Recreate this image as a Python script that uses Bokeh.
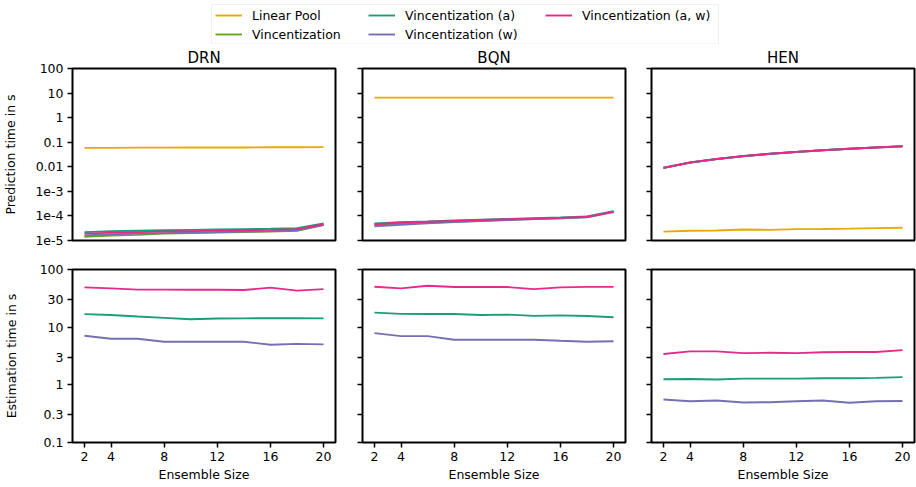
from bokeh.plotting import figure
from bokeh.models import Range1d, FixedTicker, Legend, LegendItem, BoxAnnotation
from bokeh.layouts import column, row
from bokeh.embed import file_html
from bokeh.resources import INLINE

# ---------------- data ----------------
ensemble_sizes = [2, 4, 6, 8, 10, 12, 14, 16, 18, 20]
models = ["DRN", "BQN", "HEN"]
method_names = ["Linear Pool", "Vincentization", "Vincentization (a)",
                "Vincentization (w)", "Vincentization (a, w)"]
method_colors = ["#e6ab02", "#66a61e", "#1b9e77", "#7570b3", "#e7298a"]

pred_ticks = [1e-5, 1e-4, 1e-3, 0.01, 0.1, 1, 10, 100]
pred_tick_labels = ["1e-5", "1e-4", "1e-3", "0.01", "0.1", "1", "10", "100"]
est_ticks = [0.1, 0.3, 1, 3, 10, 30, 100]
est_tick_labels = ["0.1", "0.3", "1", "3", "10", "30", "100"]
x_ticks = [2, 4, 8, 12, 16, 20]

# prediction time (s)
drn_pred_lp = [0.059, 0.059, 0.060, 0.060, 0.061, 0.061, 0.061, 0.062, 0.062, 0.063]
drn_pred_v = [1.4e-5, 1.6e-5, 1.7e-5, 1.9e-5, 2.0e-5, 2.1e-5, 2.2e-5, 2.3e-5, 2.5e-5, 4.2e-5]
drn_pred_va = [2.2e-5, 2.4e-5, 2.5e-5, 2.6e-5, 2.7e-5, 2.8e-5, 2.9e-5, 3.0e-5, 3.2e-5, 5.0e-5]
drn_pred_vw = [1.6e-5, 1.8e-5, 1.9e-5, 2.0e-5, 2.1e-5, 2.2e-5, 2.3e-5, 2.4e-5, 2.6e-5, 4.3e-5]
drn_pred_vaw = [1.9e-5, 2.1e-5, 2.2e-5, 2.3e-5, 2.4e-5, 2.5e-5, 2.6e-5, 2.7e-5, 2.9e-5, 4.6e-5]

bqn_pred_lp = [6.5, 6.5, 6.5, 6.5, 6.5, 6.5, 6.5, 6.5, 6.5, 6.5]
bqn_pred_v = [4.2e-5, 4.8e-5, 5.3e-5, 5.8e-5, 6.4e-5, 7.0e-5, 7.5e-5, 8.1e-5, 9.0e-5, 1.48e-4]
bqn_pred_va = [5.0e-5, 5.6e-5, 6.0e-5, 6.5e-5, 7.0e-5, 7.5e-5, 8.0e-5, 8.6e-5, 9.5e-5, 1.55e-4]
bqn_pred_vw = [3.8e-5, 4.4e-5, 5.0e-5, 5.6e-5, 6.2e-5, 6.8e-5, 7.4e-5, 8.0e-5, 8.8e-5, 1.45e-4]
bqn_pred_vaw = [4.6e-5, 5.4e-5, 5.8e-5, 6.3e-5, 6.8e-5, 7.3e-5, 7.8e-5, 8.3e-5, 9.2e-5, 1.5e-4]

hen_pred_lp = [2.3e-5, 2.5e-5, 2.55e-5, 2.8e-5, 2.7e-5, 2.9e-5, 2.95e-5, 3.05e-5, 3.2e-5, 3.3e-5]
hen_pred_v = [0.0090, 0.0148, 0.0205, 0.0270, 0.0335, 0.0400, 0.0470, 0.0540, 0.0610, 0.0680]
hen_pred_va = [0.0091, 0.0150, 0.0208, 0.0273, 0.0338, 0.0405, 0.0475, 0.0545, 0.0615, 0.0690]
hen_pred_vw = [0.0089, 0.0147, 0.0204, 0.0268, 0.0333, 0.0398, 0.0468, 0.0538, 0.0608, 0.0678]
hen_pred_vaw = [0.0090, 0.0150, 0.0207, 0.0272, 0.0337, 0.0403, 0.0472, 0.0543, 0.0613, 0.0685]

# estimation time (s)
drn_est_va = [16.8, 16.3, 15.3, 14.5, 13.7, 14.1, 14.2, 14.3, 14.3, 14.2]
drn_est_vw = [7.1, 6.3, 6.3, 5.6, 5.6, 5.6, 5.6, 4.95, 5.14, 5.03]
drn_est_vaw = [49.0, 47.0, 44.7, 44.7, 44.5, 44.5, 44.0, 48.4, 43.0, 45.7]

bqn_est_va = [17.9, 17.0, 16.9, 16.9, 16.3, 16.5, 15.7, 16.0, 15.6, 14.9]
bqn_est_vw = [7.9, 7.0, 7.0, 6.05, 6.05, 6.05, 6.05, 5.8, 5.6, 5.7]
bqn_est_vaw = [50.3, 47.0, 52.3, 49.6, 50.0, 49.6, 45.7, 49.0, 50.0, 50.0]

hen_est_va = [1.25, 1.26, 1.24, 1.28, 1.28, 1.28, 1.30, 1.30, 1.32, 1.36]
hen_est_vw = [0.558, 0.518, 0.535, 0.495, 0.50, 0.518, 0.535, 0.49, 0.52, 0.525]
hen_est_vaw = [3.42, 3.81, 3.81, 3.54, 3.6, 3.54, 3.68, 3.7, 3.7, 4.0]

pred_series = {
    "DRN": [drn_pred_lp, drn_pred_v, drn_pred_va, drn_pred_vw, drn_pred_vaw],
    "BQN": [bqn_pred_lp, bqn_pred_v, bqn_pred_va, bqn_pred_vw, bqn_pred_vaw],
    "HEN": [hen_pred_lp, hen_pred_v, hen_pred_va, hen_pred_vw, hen_pred_vaw],
}
est_series = {
    "DRN": [None, None, drn_est_va, drn_est_vw, drn_est_vaw],
    "BQN": [None, None, bqn_est_va, bqn_est_vw, bqn_est_vaw],
    "HEN": [None, None, hen_est_va, hen_est_vw, hen_est_vaw],
}

# ---------------- style / layout ----------------
FONT = "DejaVu Sans"
TICK_FS = "12.5px"
LINE_W = 1.9
FRAME_W = 263
HEADER_H = 44
col_left = [71, 20, 20]
col_right = [7, 6, 3]


def style(p):
    p.grid.visible = False
    p.outline_line_color = "black"
    p.outline_line_width = 2
    p.background_fill_color = "white"
    p.border_fill_color = "white"
    for ax in p.axis:
        ax.axis_line_color = None
        ax.major_tick_in = 0
        ax.major_tick_out = 5
        ax.major_tick_line_width = 1.5
        ax.major_tick_line_color = "black"
        ax.minor_tick_line_color = None
        ax.major_label_text_font = FONT
        ax.major_label_text_font_size = TICK_FS
        ax.major_label_text_color = "black"
        ax.major_label_standoff = 4
        ax.axis_label_text_font = FONT
        ax.axis_label_text_font_size = TICK_FS
        ax.axis_label_text_font_style = "normal"
        ax.axis_label_text_color = "black"


def make_panel(ci, top):
    name = models[ci]
    if top:
        yr = Range1d(pred_ticks[0], pred_ticks[-1])
        ticks, labels = pred_ticks, pred_tick_labels
        series = pred_series[name]
        fh, bt, bb = 172, 24, 14
    else:
        yr = Range1d(est_ticks[0], est_ticks[-1])
        ticks, labels = est_ticks, est_tick_labels
        series = est_series[name]
        fh, bt, bb = 173, 15, 45
    p = figure(frame_width=FRAME_W, frame_height=fh, y_axis_type="log",
               x_range=Range1d(1.1, 20.9), y_range=yr,
               output_backend="svg", toolbar_location=None,
               min_border_left=col_left[ci], min_border_right=col_right[ci],
               min_border_top=bt, min_border_bottom=bb)
    style(p)
    for vals, color in zip(series, method_colors):
        if vals is None:
            continue
        p.line(ensemble_sizes, vals, line_color=color, line_width=LINE_W)
    p.yaxis.ticker = FixedTicker(ticks=ticks, minor_ticks=[])
    if ci == 0:
        p.yaxis.major_label_overrides = {t: l for t, l in zip(ticks, labels)}
        p.yaxis.axis_label = "Prediction time in s" if top else "Estimation time in s"
        p.yaxis.axis_label_standoff = 14 if top else 18
    else:
        p.yaxis.major_label_overrides = {t: "" for t in ticks}
    p.xaxis.ticker = FixedTicker(ticks=x_ticks, minor_ticks=[])
    if top:
        p.xaxis.visible = False
        p.title.text = name
        p.title.align = "center"
        p.title.text_font = FONT
        p.title.text_font_size = "15px"
        p.title.text_font_style = "normal"
        p.title.text_color = "black"
        p.title.standoff = 4
    else:
        p.xaxis.axis_label = "Ensemble Size"
        p.xaxis.axis_label_standoff = 3
    return p


top_row = [make_panel(i, True) for i in range(3)]
bottom_row = [make_panel(i, False) for i in range(3)]

# header with legend (x: pixels from left, y: pixels from bottom)
header = figure(width=916, height=HEADER_H, x_range=Range1d(0, 916),
                y_range=Range1d(0, HEADER_H),
                output_backend="svg", toolbar_location=None,
                x_axis_location=None, y_axis_location=None, min_border=0)
header.grid.visible = False
header.outline_line_color = None
header.border_fill_color = "white"
header.background_fill_color = "white"

frame_box = BoxAnnotation(left=211, right=718, bottom=HEADER_H - 43.5, top=HEADER_H - 4,
                          fill_color="white", fill_alpha=0.8,
                          line_color="#cccccc", line_width=1)
header.add_layout(frame_box)

nan = float("nan")
renderers = []
for color in method_colors:
    renderers.append(header.line(x=[nan, nan], y=[nan, nan],
                                 line_color=color, line_width=LINE_W))

ITEM_H = 16
ITEM_GAP = 3
LEG_TOP = 7
legend_groups = [[0, 1], [2, 3], [4]]
legend_x = [215, 368, 545]
for grp, lx in zip(legend_groups, legend_x):
    items = [LegendItem(label=method_names[i], renderers=[renderers[i]]) for i in grp]
    h = len(grp) * ITEM_H + (len(grp) - 1) * ITEM_GAP
    lg = Legend(items=items, location=(lx, HEADER_H - LEG_TOP - h), orientation="vertical",
                label_text_font=FONT, label_text_font_size=TICK_FS,
                label_text_color="black", label_height=ITEM_H, glyph_height=ITEM_H,
                glyph_width=27, label_standoff=10, padding=0, spacing=ITEM_GAP, margin=0,
                border_line_color=None, background_fill_alpha=0)
    header.add_layout(lg)

layout = column(header, row(*top_row), row(*bottom_row))

open("out.html", "w").write(file_html(layout, INLINE))
